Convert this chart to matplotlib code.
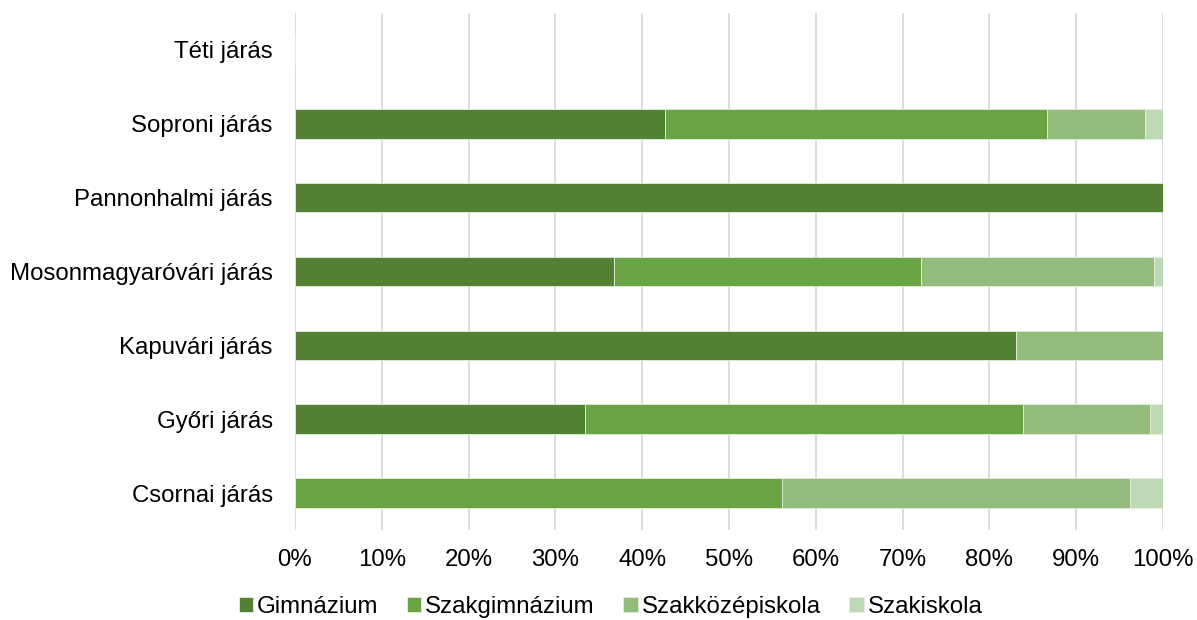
import matplotlib.pyplot as plt
from matplotlib.ticker import PercentFormatter
import numpy as np

plt.rcParams['font.family'] = ['Liberation Sans', 'DejaVu Sans']

# Data (shares in %)
districts = ["Csornai járás", "Győri járás", "Kapuvári járás", "Mosonmagyaróvári járás",
             "Pannonhalmi járás", "Soproni járás", "Téti járás"]
gimnazium = [0.0, 33.4, 83.1, 36.8, 100.0, 42.6, 0.0]
szakgimnazium = [56.1, 50.5, 0.0, 35.3, 0.0, 44.0, 0.0]
szakkozep = [40.1, 14.6, 16.9, 26.9, 0.0, 11.3, 0.0]
szakiskola = [3.8, 1.5, 0.0, 1.0, 0.0, 2.1, 0.0]

series = [("Gimnázium", gimnazium, "#548235"),
          ("Szakgimnázium", szakgimnazium, "#6AA343"),
          ("Szakközépiskola", szakkozep, "#93BB7C"),
          ("Szakiskola", szakiskola, "#BFD8B5")]

fig = plt.figure(figsize=(11.97, 6.2), dpi=100)
ax = fig.add_axes([295 / 1197, 1 - 530 / 620, 868 / 1197, 517 / 620])

y = np.arange(len(districts))
left = np.zeros(len(districts))
for name, vals, color in series:
    vals = np.array(vals)
    ax.barh(y, vals, left=left, height=0.4, color=color, label=name,
            edgecolor="#E2EFDA", linewidth=0.6, zorder=2)
    left += vals

ax.set_xlim(0, 100)
ax.set_ylim(-0.5, len(districts) - 0.5)
ax.set_yticks(y)
ax.set_yticklabels(districts, fontsize=17.3)
ax.set_xticks(np.arange(0, 101, 10))
ax.xaxis.set_major_formatter(PercentFormatter(decimals=0))
ax.tick_params(axis="x", labelsize=17.3, length=0, pad=14)
ax.tick_params(axis="y", length=0, pad=16)
ax.grid(axis="x", color="#D9D9D9", linewidth=1.3, zorder=0)
ax.set_axisbelow(True)
for s in ax.spines.values():
    s.set_visible(False)

fig.legend(loc="lower center", bbox_to_anchor=(0.51, -0.032), ncol=4, frameon=False,
           fontsize=17.3, handlelength=0.6, handleheight=0.6, handletextpad=0.15,
           columnspacing=1.2)

fig.savefig("out.png", dpi=100)
